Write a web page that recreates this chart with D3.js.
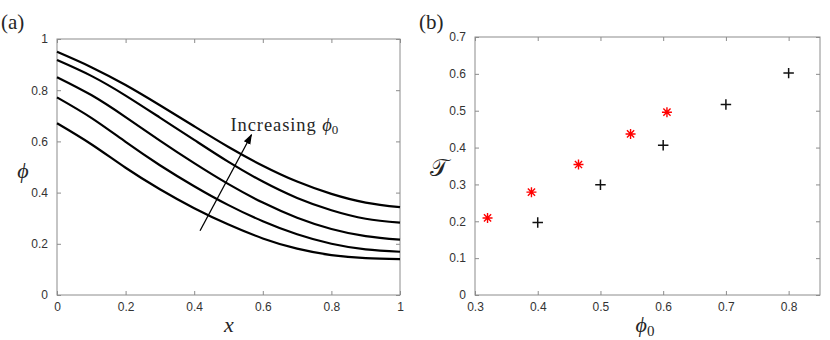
<!DOCTYPE html>
<html>
<head>
<meta charset="utf-8">
<script src="https://cdn.jsdelivr.net/npm/d3@7"></script>
<style>
  body { margin: 0; background: #fff; }
  .tick text { font-family: "Liberation Sans", Arial, sans-serif; font-size: 12px; fill: #333; }
  .tick line { stroke: #8c8c8c; }
  .domain { stroke: none; }
  .serif { font-family: "Liberation Serif", "DejaVu Serif", serif; fill: #262626; }
</style>
</head>
<body>
<svg width="830" height="340"></svg>
<script>
// panel (a): phi(x) profiles
const xGrid = [0, 0.1, 0.2, 0.3, 0.4, 0.5, 0.6, 0.7, 0.8, 0.9, 1];
const phiCurve1 = [0.950, 0.890, 0.820, 0.741, 0.659, 0.578, 0.505, 0.443, 0.395, 0.361, 0.343];
const phiCurve2 = [0.918, 0.856, 0.779, 0.693, 0.606, 0.520, 0.443, 0.379, 0.331, 0.298, 0.283];
const phiCurve3 = [0.851, 0.781, 0.695, 0.603, 0.515, 0.433, 0.361, 0.302, 0.258, 0.230, 0.216];
const phiCurve4 = [0.772, 0.692, 0.598, 0.507, 0.425, 0.351, 0.288, 0.237, 0.200, 0.178, 0.169];
const phiCurve5 = [0.671, 0.589, 0.497, 0.413, 0.339, 0.275, 0.221, 0.181, 0.156, 0.144, 0.140];
const xTicksA = [0, 0.2, 0.4, 0.6, 0.8, 1];
const yTicksA = [0, 0.2, 0.4, 0.6, 0.8, 1];
const arrowFrom = [0.417, 0.251];
const arrowTo = [0.567, 0.626];

// panel (b): T vs phi0
const redPhi0 = [0.320, 0.390, 0.465, 0.548, 0.606];
const redT = [0.209, 0.279, 0.354, 0.437, 0.496];
const blackPhi0 = [0.4, 0.5, 0.6, 0.7, 0.8];
const blackT = [0.197, 0.299, 0.406, 0.517, 0.602];
const xTicksB = [0.3, 0.4, 0.5, 0.6, 0.7, 0.8];
const yTicksB = [0, 0.1, 0.2, 0.3, 0.4, 0.5, 0.6, 0.7];

const svg = d3.select("svg");
const fmt = d3.format("~g");

function box(g, w, h, xs, ys, xt, yt) {
    g.append("g").attr("transform", "translate(0," + h + ")")
        .call(d3.axisBottom(xs).tickValues(xt).tickFormat(fmt).tickSizeInner(-4).tickSizeOuter(0).tickPadding(7));
    g.append("g").call(d3.axisTop(xs).tickValues(xt).tickFormat("").tickSizeInner(-4).tickSizeOuter(0));
    g.append("g")
        .call(d3.axisLeft(ys).tickValues(yt).tickFormat(fmt).tickSizeInner(-4).tickSizeOuter(0).tickPadding(9));
    g.append("g").attr("transform", "translate(" + w + ",0)")
        .call(d3.axisRight(ys).tickValues(yt).tickFormat("").tickSizeInner(-4).tickSizeOuter(0));
    g.append("rect").attr("width", w).attr("height", h)
        .attr("fill", "none").attr("stroke", "#8c8c8c").attr("stroke-width", 1);
}

// ---- panel (a)
const mA = { left: 57, top: 39 };
const wA = 343, hA = 256;
const gA = svg.append("g").attr("transform", "translate(" + mA.left + "," + mA.top + ")");
const xA = d3.scaleLinear().domain([0, 1]).range([0, wA]);
const yA = d3.scaleLinear().domain([0, 1]).range([hA, 0]);
box(gA, wA, hA, xA, yA, xTicksA, yTicksA);

const line = d3.line().x((d, i) => xA(xGrid[i])).y(d => yA(d)).curve(d3.curveNatural);
[phiCurve1, phiCurve2, phiCurve3, phiCurve4, phiCurve5].forEach(c => {
    gA.append("path").attr("d", line(c)).attr("fill", "none")
        .attr("stroke", "#000").attr("stroke-width", 2.2);
});

svg.append("defs").append("marker").attr("id", "head")
    .attr("viewBox", "0 0 10 10").attr("refX", 9).attr("refY", 5)
    .attr("markerWidth", 8).attr("markerHeight", 8).attr("orient", "auto")
    .append("path").attr("d", "M0,1.5L10,5L0,8.5Z").attr("fill", "#000");
gA.append("line")
    .attr("x1", xA(arrowFrom[0])).attr("y1", yA(arrowFrom[1]))
    .attr("x2", xA(arrowTo[0])).attr("y2", yA(arrowTo[1]))
    .attr("stroke", "#000").attr("stroke-width", 1.3).attr("marker-end", "url(#head)");

const ann = gA.append("text").attr("class", "serif")
    .attr("x", xA(0.506)).attr("y", yA(0.642)).style("font-size", "18.5px");
ann.append("tspan").style("letter-spacing", "0.9px").text("Increasing ");
ann.append("tspan").style("font-style", "italic").text("ϕ");
ann.append("tspan").attr("dy", 3).style("font-size", "13px").text("0");

svg.append("text").attr("class", "serif").attr("x", 1).attr("y", 29)
    .style("font-size", "21px").text("(a)");
svg.append("text").attr("class", "serif").attr("x", 229).attr("y", 332)
    .attr("text-anchor", "middle").style("font-size", "22px").style("font-style", "italic").text("x");
svg.append("text").attr("class", "serif").attr("x", 23).attr("y", 178)
    .attr("text-anchor", "middle").style("font-size", "22px").style("font-style", "italic").text("ϕ");

// ---- panel (b)
const mB = { left: 475, top: 37 };
const wB = 345, hB = 258;
const gB = svg.append("g").attr("transform", "translate(" + mB.left + "," + mB.top + ")");
const xB = d3.scaleLinear().domain([0.3, 0.85]).range([0, wB]);
const yB = d3.scaleLinear().domain([0, 0.7]).range([hB, 0]);
box(gB, wB, hB, xB, yB, xTicksB, yTicksB);

const plusType = {
    draw(ctx, size) {
        const r = Math.sqrt(size) / 2;
        ctx.moveTo(-r, 0); ctx.lineTo(r, 0);
        ctx.moveTo(0, -r); ctx.lineTo(0, r);
    }
};
const starType = {
    draw(ctx, size) {
        const r = Math.sqrt(size) / 2, q = r * 0.72;
        ctx.moveTo(-r, 0); ctx.lineTo(r, 0);
        ctx.moveTo(0, -r); ctx.lineTo(0, r);
        ctx.moveTo(-q, -q); ctx.lineTo(q, q);
        ctx.moveTo(-q, q); ctx.lineTo(q, -q);
    }
};

gB.selectAll(".star").data(redPhi0).join("path").attr("class", "star")
    .attr("transform", (d, i) => "translate(" + xB(d) + "," + yB(redT[i]) + ")")
    .attr("d", d3.symbol().type(starType).size(100))
    .attr("fill", "none").attr("stroke", "#ff0000").attr("stroke-width", 1.4);

gB.selectAll(".plus").data(blackPhi0).join("path").attr("class", "plus")
    .attr("transform", (d, i) => "translate(" + xB(d) + "," + yB(blackT[i]) + ")")
    .attr("d", d3.symbol().type(plusType).size(110))
    .attr("fill", "none").attr("stroke", "#111").attr("stroke-width", 1.5);

svg.append("text").attr("class", "serif").attr("x", 419).attr("y", 29)
    .style("font-size", "21px").text("(b)");
const xl = svg.append("text").attr("class", "serif").attr("x", 645).attr("y", 332)
    .attr("text-anchor", "middle").style("font-size", "22px");
xl.append("tspan").style("font-style", "italic").text("ϕ");
xl.append("tspan").attr("dy", 4).style("font-size", "15px").text("0");
svg.append("text").attr("class", "serif").attr("x", 439).attr("y", 176)
    .attr("text-anchor", "middle").style("font-size", "24px").text("𝒯");
</script>
</body>
</html>
